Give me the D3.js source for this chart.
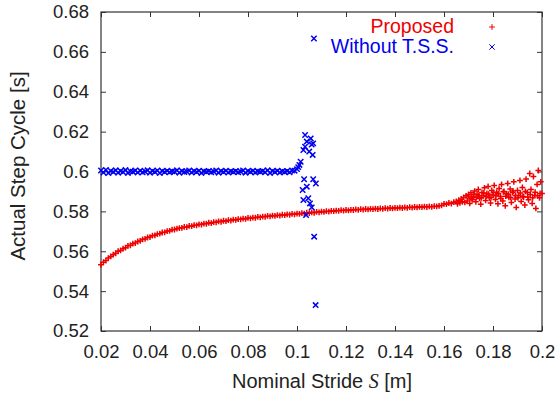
<!DOCTYPE html>
<html>
<head>
<meta charset="utf-8">
<script src="https://cdn.jsdelivr.net/npm/d3@7/dist/d3.min.js"></script>
<style>
  body { margin: 0; background: #fff; }
  text { font-family: "Liberation Sans", Arial, Helvetica, sans-serif; fill: #222; }
</style>
</head>
<body>
<div id="chart"></div>
<script>
// tick labels
var strideTicks = [0.02, 0.04, 0.06, 0.08, 0.1, 0.12, 0.14, 0.16, 0.18, 0.2];
var cycleTicks = [0.52, 0.54, 0.56, 0.58, 0.6, 0.62, 0.64, 0.66, 0.68];

var seriesNames = ["Proposed", "Without T.S.S."];

// Proposed: [nominal stride, actual step cycle]
var proposed = [
  [0.020,0.5532],[0.021,0.5545],[0.022,0.5553],[0.023,0.5566],[0.024,0.5574],[0.025,0.5583],
  [0.026,0.5590],[0.027,0.5600],[0.028,0.5604],[0.029,0.5613],[0.030,0.5618],[0.031,0.5627],
  [0.032,0.5630],[0.033,0.5638],[0.034,0.5641],[0.035,0.5649],[0.036,0.5652],[0.037,0.5660],
  [0.038,0.5662],[0.039,0.5669],[0.040,0.5671],[0.041,0.5678],[0.042,0.5680],[0.043,0.5686],
  [0.044,0.5688],[0.045,0.5694],[0.046,0.5695],[0.047,0.5701],[0.048,0.5702],[0.049,0.5708],
  [0.050,0.5709],[0.051,0.5713],[0.052,0.5716],[0.053,0.5717],[0.054,0.5722],[0.055,0.5721],
  [0.056,0.5727],[0.057,0.5726],[0.058,0.5731],[0.059,0.5730],[0.060,0.5735],[0.061,0.5734],
  [0.062,0.5739],[0.063,0.5738],[0.064,0.5743],[0.065,0.5741],[0.066,0.5746],[0.067,0.5745],
  [0.068,0.5750],[0.069,0.5748],[0.070,0.5753],[0.071,0.5751],[0.072,0.5756],[0.073,0.5754],
  [0.074,0.5759],[0.075,0.5757],[0.076,0.5761],[0.077,0.5760],[0.078,0.5764],[0.079,0.5762],
  [0.080,0.5767],[0.081,0.5765],[0.082,0.5769],[0.083,0.5768],[0.084,0.5772],[0.085,0.5770],
  [0.086,0.5774],[0.087,0.5773],[0.088,0.5777],[0.089,0.5775],[0.090,0.5779],[0.091,0.5777],
  [0.092,0.5781],[0.093,0.5779],[0.094,0.5783],[0.095,0.5781],[0.096,0.5785],[0.097,0.5783],
  [0.098,0.5787],[0.099,0.5785],[0.100,0.5789],[0.101,0.5787],[0.102,0.5791],[0.103,0.5789],
  [0.104,0.5793],[0.105,0.5791],[0.106,0.5795],[0.107,0.5793],[0.108,0.5797],[0.109,0.5795],
  [0.110,0.5799],[0.111,0.5797],[0.112,0.5801],[0.113,0.5799],[0.114,0.5803],[0.115,0.5801],
  [0.116,0.5804],[0.117,0.5803],[0.118,0.5806],[0.119,0.5804],[0.120,0.5807],[0.121,0.5805],
  [0.122,0.5808],[0.123,0.5807],[0.124,0.5810],[0.125,0.5808],[0.126,0.5811],[0.127,0.5809],
  [0.128,0.5812],[0.129,0.5810],[0.130,0.5813],[0.131,0.5811],[0.132,0.5814],[0.133,0.5812],
  [0.134,0.5815],[0.135,0.5813],[0.136,0.5816],[0.137,0.5814],[0.138,0.5817],[0.139,0.5815],
  [0.140,0.5818],[0.141,0.5816],[0.142,0.5819],[0.143,0.5817],[0.144,0.5820],[0.145,0.5818],
  [0.146,0.5821],[0.147,0.5819],[0.148,0.5822],[0.149,0.5820],[0.150,0.5823],[0.151,0.5821],
  [0.152,0.5824],[0.153,0.5822],[0.154,0.5825],[0.155,0.5823],[0.156,0.5826],[0.157,0.5825],
  [0.158,0.5828],[0.159,0.5830],[0.160,0.5838],[0.161,0.5836],[0.162,0.5842],[0.163,0.5839],
  [0.164,0.5846],
  [0.1650,0.5850],[0.1655,0.5838],[0.1660,0.5856],[0.1665,0.5843],[0.1670,0.5862],[0.1675,0.5848],
  [0.1680,0.5870],[0.1685,0.5845],[0.1690,0.5878],[0.1695,0.5852],[0.1700,0.5885],[0.1705,0.5840],
  [0.1710,0.5893],[0.1715,0.5858],[0.1720,0.5874],[0.1725,0.5902],[0.1730,0.5848],[0.1735,0.5886],
  [0.1740,0.5910],[0.1745,0.5865],[0.1750,0.5836],[0.1755,0.5895],[0.1760,0.5878],[0.1765,0.5918],
  [0.1770,0.5855],[0.1775,0.5890],[0.1780,0.5925],[0.1785,0.5868],[0.1790,0.5842],[0.1795,0.5905],
  [0.1800,0.5882],[0.1805,0.5930],[0.1810,0.5860],[0.1815,0.5896],[0.1820,0.5838],[0.1825,0.5915],
  [0.1830,0.5875],[0.1835,0.5935],[0.1840,0.5852],[0.1845,0.5900],[0.1850,0.5828],[0.1855,0.5888],
  [0.1860,0.5940],[0.1865,0.5870],[0.1870,0.5912],[0.1875,0.5845],[0.1880,0.5895],[0.1885,0.5948],
  [0.1890,0.5862],[0.1895,0.5820],[0.1900,0.5905],[0.1905,0.5880],[0.1910,0.5955],[0.1915,0.5850],
  [0.1920,0.5920],[0.1925,0.5872],[0.1930,0.5832],[0.1935,0.5962],[0.1940,0.5895],[0.1945,0.5858],
  [0.1950,0.5990],[0.1955,0.5910],[0.1960,0.5840],[0.1965,0.5975],[0.1970,0.5880],[0.1975,0.5815],
  [0.1980,0.5935],[0.1985,0.6005],[0.1990,0.5868],[0.1995,0.5948],[0.2000,0.5890],
  [0.1702,0.5872],[0.1712,0.5866],[0.1722,0.5885],[0.1732,0.5870],[0.1742,0.5880],[0.1752,0.5868],
  [0.1762,0.5892],[0.1772,0.5875],[0.1782,0.5886],[0.1792,0.5870],[0.1802,0.5895],[0.1812,0.5878],
  [0.1822,0.5888],[0.1832,0.5865],[0.1842,0.5898],[0.1852,0.5876],[0.1862,0.5886],[0.1872,0.5870],
  [0.1882,0.5902],[0.1892,0.5880],[0.1902,0.5868],[0.1912,0.5892],[0.1922,0.5875],[0.1932,0.5900],
  [0.1942,0.5872],[0.1952,0.5885],[0.1962,0.5868],[0.1972,0.5896],[0.1982,0.5878],[0.1992,0.5890]
];

// Without T.S.S.: [nominal stride, actual step cycle]
var withoutTSS = [
  [0.020,0.6005],[0.021,0.5995],[0.022,0.6008],[0.023,0.5992],[0.024,0.6003],[0.025,0.5998],
  [0.026,0.6006],[0.027,0.5994],[0.028,0.6002],[0.029,0.5997],[0.030,0.6007],[0.031,0.5993],
  [0.032,0.6001],[0.033,0.5999],[0.034,0.6005],[0.035,0.5995],[0.036,0.6004],[0.037,0.5996],
  [0.038,0.6000],[0.039,0.6006],[0.040,0.5994],[0.041,0.6003],[0.042,0.5998],[0.043,0.6005],
  [0.044,0.5992],[0.045,0.6002],[0.046,0.5997],[0.047,0.6004],[0.048,0.5996],[0.049,0.6001],
  [0.050,0.5999],[0.051,0.6006],[0.052,0.5994],[0.053,0.6003],[0.054,0.5997],[0.055,0.6000],
  [0.056,0.6005],[0.057,0.5995],[0.058,0.6002],[0.059,0.5998],[0.060,0.6004],[0.061,0.5993],
  [0.062,0.6001],[0.063,0.5999],[0.064,0.6003],[0.065,0.5996],[0.066,0.6000],[0.067,0.6005],
  [0.068,0.5994],[0.069,0.6002],[0.070,0.5997],[0.071,0.6004],[0.072,0.5995],[0.073,0.6001],
  [0.074,0.5998],[0.075,0.6003],[0.076,0.5996],[0.077,0.6000],[0.078,0.6005],[0.079,0.5994],
  [0.080,0.6002],[0.081,0.5998],[0.082,0.6004],[0.083,0.5995],[0.084,0.6001],[0.085,0.5999],
  [0.086,0.6003],[0.087,0.5996],[0.088,0.6006],[0.089,0.5993],[0.090,0.6002],[0.091,0.5997],
  [0.092,0.6004],[0.093,0.5995],[0.094,0.6001],[0.095,0.5998],[0.096,0.6003],[0.097,0.5996],
  [0.098,0.6005],[0.099,0.6004],[0.100,0.6012],
  [0.1005,0.6022],[0.1010,0.6033],[0.1015,0.6049],[0.1023,0.5907],[0.1026,0.6108],[0.1026,0.5857],
  [0.1029,0.5961],[0.1033,0.6183],[0.1033,0.6124],[0.1037,0.5782],[0.1040,0.6150],[0.1040,0.5924],
  [0.1046,0.5866],[0.1053,0.5840],[0.1056,0.6166],[0.1060,0.5820],[0.1064,0.6083],[0.1066,0.6141],
  [0.1066,0.5961],[0.1069,0.6667],[0.1070,0.5673],[0.1076,0.5330],[0.1077,0.5940],[0.1060,0.6135],
  [0.1050,0.6100]
];

var width = 558, height = 398;
var margin = {top: 12, right: 16, bottom: 67, left: 101};
var plotW = width - margin.left - margin.right,
    plotH = height - margin.top - margin.bottom;

var svg = d3.select("#chart")
  .append("svg")
    .attr("width", width)
    .attr("height", height);

var g = svg.append("g")
    .attr("transform", "translate(" + margin.left + "," + margin.top + ")");

var x = d3.scaleLinear().domain([0.02, 0.2]).range([0, plotW]);
var y = d3.scaleLinear().domain([0.52, 0.68]).range([plotH, 0]);

var plusPath = "M-2.9,0H2.9M0,-2.9V2.9";
var timesPath = "M-2.7,-2.7L2.7,2.7M-2.7,2.7L2.7,-2.7";
var red = "#f00000", blue = "#0000f0";

// axes: ticks inside on all four sides
var axisBottomG = g.append("g")
    .attr("transform", "translate(0," + plotH + ")")
    .call(d3.axisBottom(x).tickValues(strideTicks).tickFormat(String)
      .tickSizeInner(-5).tickSizeOuter(0).tickPadding(14));
var axisLeftG = g.append("g")
    .call(d3.axisLeft(y).tickValues(cycleTicks).tickFormat(String)
      .tickSizeInner(-5).tickSizeOuter(0).tickPadding(12));
var axisTopG = g.append("g")
    .call(d3.axisTop(x).tickValues(strideTicks).tickFormat("")
      .tickSizeInner(-5).tickSizeOuter(0));
var axisRightG = g.append("g")
    .attr("transform", "translate(" + plotW + ",0)")
    .call(d3.axisRight(y).tickValues(cycleTicks).tickFormat("")
      .tickSizeInner(-5).tickSizeOuter(0));

[axisBottomG, axisLeftG, axisTopG, axisRightG].forEach(function(a) {
  a.select(".domain").remove();
  a.selectAll(".tick line").attr("stroke", "#333");
  a.selectAll("text").style("font-size", "18.5px").attr("fill", "#222");
});

g.append("rect")
    .attr("width", plotW)
    .attr("height", plotH)
    .attr("fill", "none")
    .attr("stroke", "#333")
    .attr("stroke-width", 1.2);

// points
g.append("g").selectAll("path")
  .data(proposed)
  .enter()
  .append("path")
    .attr("d", plusPath)
    .attr("transform", function(d) { return "translate(" + x(d[0]) + "," + y(d[1]) + ")"; })
    .attr("stroke", red)
    .attr("stroke-width", 1.5)
    .attr("fill", "none");

g.append("g").selectAll("path")
  .data(withoutTSS)
  .enter()
  .append("path")
    .attr("d", timesPath)
    .attr("transform", function(d) { return "translate(" + x(d[0]) + "," + y(d[1]) + ")"; })
    .attr("stroke", blue)
    .attr("stroke-width", 1.5)
    .attr("fill", "none");

// legend
var legend = g.append("g").attr("transform", "translate(" + (plotW - 50) + ",0)");
legend.selectAll("text")
  .data(seriesNames)
  .enter()
  .append("text")
    .attr("x", -38)
    .attr("y", function(d, i) { return 21 + i * 20; })
    .attr("text-anchor", "end")
    .style("font-size", "19.5px")
    .style("fill", function(d, i) { return i == 0 ? red : blue; })
    .text(function(d) { return d; });
legend.selectAll("path")
  .data(seriesNames)
  .enter()
  .append("path")
    .attr("d", function(d, i) { return i == 0 ? plusPath : timesPath; })
    .attr("transform", function(d, i) { return "translate(0," + (15 + i * 20) + ")"; })
    .attr("stroke", function(d, i) { return i == 0 ? red : blue; })
    .attr("stroke-width", 1)
    .attr("fill", "none");

// axis titles
var xTitle = svg.append("text")
    .attr("x", 322)
    .attr("y", 388)
    .attr("text-anchor", "middle")
    .style("font-size", "20px");
xTitle.append("tspan").text("Nominal Stride ");
xTitle.append("tspan")
    .style("font-family", "'Liberation Serif', 'Times New Roman', serif")
    .style("font-style", "italic")
    .text("S");
xTitle.append("tspan").text(" [m]");

svg.append("text")
    .attr("transform", "translate(25,166) rotate(-90)")
    .attr("text-anchor", "middle")
    .style("font-size", "20.5px")
    .text("Actual Step Cycle [s]");
</script>
</body>
</html>
